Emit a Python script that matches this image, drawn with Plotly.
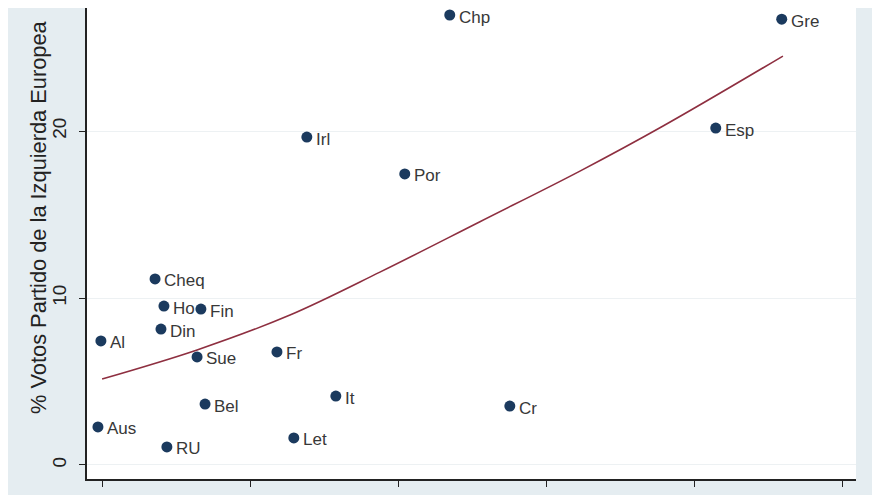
import plotly.graph_objects as go

# country scatter
countries = ["Chp", "Gre", "Irl", "Esp", "Por", "Cheq", "Ho", "Fin", "Din", "Al",
             "Sue", "Fr", "It", "Bel", "Cr", "Aus", "Let", "RU"]
x_vals = [16.72, 27.94, 11.89, 25.71, 15.20, 6.76, 7.06, 8.31, 6.96, 4.93,
          8.18, 10.88, 12.87, 8.45, 18.75, 4.83, 11.45, 7.16]
y_vals = [26.95, 26.70, 19.64, 20.18, 17.43, 11.14, 9.52, 9.34, 8.14, 7.43,
          6.47, 6.77, 4.13, 3.65, 3.53, 2.28, 1.62, 1.08]

# quadratic fit curve
fit_x = [4.97, 8.18, 11.32, 14.36, 17.74, 21.12, 23.93, 27.98]
fit_y = [5.15, 6.89, 8.98, 11.55, 14.57, 17.60, 20.30, 24.49]

x_ticks = [5, 10, 15, 20, 25, 30]
y_ticks = [0, 10, 20]

BG = "#e5edf1"
DOT = "#1b3a5e"
FIT = "#8e2f40"
FONT = "Liberation Sans, Arial, sans-serif"

fig = go.Figure()

fig.add_trace(go.Scatter(
    x=fit_x, y=fit_y,
    mode="lines",
    line=dict(color=FIT, width=1.6, shape="spline", smoothing=1.0),
    hoverinfo="skip",
    showlegend=False,
))

fig.add_trace(go.Scatter(
    x=x_vals, y=y_vals,
    mode="markers",
    marker=dict(size=11, color=DOT),
    hovertext=countries,
    cliponaxis=False,
    showlegend=False,
))

# marker labels: Stata puts them at 3 o'clock, a touch below the dot centre
for name, xv, yv in zip(countries, x_vals, y_vals):
    fig.add_annotation(
        x=xv, y=yv, text=name,
        showarrow=False,
        xanchor="left", yanchor="middle",
        xshift=7, yshift=-2,
        font=dict(family=FONT, size=17, color="#383838"),
    )

# y title sits higher than the visible plot centre (plot top is cropped)
fig.add_annotation(
    text="% Votos Partido de la Izquierda Europea",
    xref="paper", yref="paper",
    x=-0.064, y=0.556,
    xanchor="center", yanchor="middle",
    textangle=-90,
    showarrow=False,
    font=dict(family=FONT, size=21.8, color="#222"),
)

# page body has an 8px margin, so the figure is sized to fit the window
fig.update_layout(
    width=872, height=487,
    margin=dict(l=79, r=24, t=0, b=16),
    paper_bgcolor=BG,
    plot_bgcolor="white",
    font=dict(family=FONT, color="#222"),
    xaxis=dict(
        range=[4.46, 30.45],
        tickvals=x_ticks,
        ticks="outside", ticklen=6, tickwidth=1.3, tickcolor="#222",
        tickfont=dict(size=19),
        showgrid=False, zeroline=False,
        showline=True, linecolor="#222", linewidth=1.5,
        automargin=False,
    ),
    yaxis=dict(
        range=[-0.84, 27.37],
        tickvals=y_ticks,
        tickangle=-90,
        ticks="outside", ticklen=6, tickwidth=1.3, tickcolor="#222",
        tickfont=dict(size=19),
        ticklabelstandoff=6,
        showgrid=True, gridcolor="#edf1f3", gridwidth=1.2,
        zeroline=False,
        showline=True, linecolor="#222", linewidth=1.5,
        automargin=False,
    ),
)

fig.write_html("out.html")
